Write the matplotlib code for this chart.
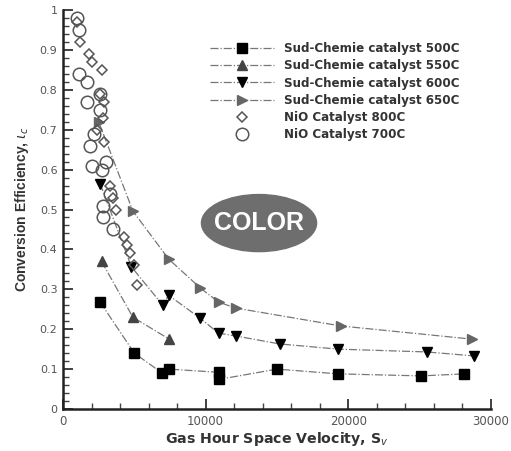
import matplotlib
matplotlib.use("Agg")
import matplotlib.pyplot as plt
from matplotlib.patches import Ellipse
from matplotlib.ticker import MultipleLocator

plt.rcParams['font.family'] = ['DejaVu Sans']

# Sud-Chemie catalyst series
x500 = [2600, 5000, 6950, 7400, 10900, 10900, 15000, 19300, 25100, 28100]
y500 = [0.268, 0.14, 0.09, 0.10, 0.092, 0.074, 0.10, 0.088, 0.083, 0.088]

x550 = [2700, 4900, 7450]
y550 = [0.37, 0.23, 0.175]

x600 = [2600, 4800, 7000, 7400, 9600, 10900, 12100, 15200, 19300, 25500, 28800]
y600 = [0.565, 0.356, 0.26, 0.285, 0.228, 0.19, 0.183, 0.163, 0.15, 0.143, 0.133]

x650 = [2500, 4900, 7400, 9600, 10900, 12100, 19500, 28700]
y650 = [0.72, 0.496, 0.376, 0.304, 0.268, 0.253, 0.208, 0.175]

# NiO catalyst series
x800 = [1000, 1200, 1800, 2000, 2700, 2600, 2900, 2800, 2400, 2900, 3300, 3500, 3700, 4300, 4500, 4700, 5000, 5200]
y800 = [0.97, 0.92, 0.89, 0.87, 0.85, 0.79, 0.77, 0.73, 0.70, 0.67, 0.56, 0.53, 0.50, 0.43, 0.41, 0.39, 0.36, 0.31]

x700 = [1000, 1100, 1100, 1700, 2600, 1700, 2600, 1900, 2000, 2700, 3300, 2800, 2800, 3500, 3000, 2200]
y700 = [0.98, 0.95, 0.84, 0.82, 0.79, 0.77, 0.75, 0.66, 0.61, 0.60, 0.54, 0.51, 0.48, 0.45, 0.62, 0.69]

labels = ["Sud-Chemie catalyst 500C", "Sud-Chemie catalyst 550C",
          "Sud-Chemie catalyst 600C", "Sud-Chemie catalyst 650C",
          "NiO Catalyst 800C", "NiO Catalyst 700C"]

fig = plt.figure(figsize=(5.11, 4.51), dpi=100)
ax = fig.add_axes([63/511, 42/451, 428/511, 399/451])

lc = '#777777'
ax.plot(x500, y500, linestyle='-.', color=lc, lw=0.9, marker='s', ms=7,
        mfc='black', mec='black', label=labels[0])
ax.plot(x550, y550, linestyle='-.', color=lc, lw=0.9, marker='^', ms=7,
        mfc='#444444', mec='#444444', label=labels[1])
ax.plot(x600, y600, linestyle='-.', color=lc, lw=0.9, marker='v', ms=7,
        mfc='black', mec='black', label=labels[2])
ax.plot(x650, y650, linestyle='-.', color=lc, lw=0.9, marker='>', ms=7,
        mfc='#666666', mec='#666666', label=labels[3])
ax.plot(x800, y800, linestyle='none', marker='D', ms=5.5, mfc='none',
        mec='#555555', mew=1.1, label=labels[4])
ax.plot(x700, y700, linestyle='none', marker='o', ms=9, mfc='none',
        mec='#555555', mew=1.1, label=labels[5])

ax.set_xlim(0, 30000)
ax.set_ylim(0, 1)
ax.xaxis.set_minor_locator(MultipleLocator(2000))
ax.yaxis.set_minor_locator(MultipleLocator(0.02))
ax.set_yticks([0, 0.1, 0.2, 0.3, 0.4, 0.5, 0.6, 0.7, 0.8, 0.9, 1.0])
ax.set_yticklabels(['0', '0.1', '0.2', '0.3', '0.4', '0.5', '0.6', '0.7', '0.8', '0.9', '1'])
ax.set_xticks([0, 10000, 20000, 30000])
ax.set_xticklabels(['0', '10000', '20000', '30000'])

for s in ['top', 'right']:
    ax.spines[s].set_visible(False)
for s in ['left', 'bottom']:
    ax.spines[s].set_linewidth(1.8)
    ax.spines[s].set_color('#222222')

ax.tick_params(which='major', direction='in', length=7, width=1.3,
               labelsize=8.5, labelcolor='#555555', color='#333333', pad=4)
ax.tick_params(axis='y', which='major', labelsize=8)
ax.tick_params(which='minor', direction='in', length=4, width=1.0, color='#444444')

ax.set_xlabel("Gas Hour Space Velocity, S$_v$", fontsize=10.2, fontweight='bold',
              color='#333333', labelpad=2)
ax.set_ylabel("Conversion Efficiency, $\\iota_c$", fontsize=10, fontweight='bold',
              color='#333333', labelpad=6, family='Liberation Sans')

leg = ax.legend(loc='upper left', bbox_to_anchor=(0.343, 0.92), frameon=False,
                fontsize=8.6, handlelength=5.4, handletextpad=0.85,
                labelspacing=0.36, borderaxespad=0, borderpad=0)
for t in leg.get_texts():
    t.set_fontweight('bold')
    t.set_color('#333333')

ell = Ellipse((0.458, 0.466), 0.269, 0.143, transform=ax.transAxes,
              facecolor='#6e6e6e', edgecolor='#6e6e6e')
ax.add_patch(ell)
ax.text(0.458, 0.466, "COLOR", transform=ax.transAxes, ha='center', va='center',
        fontsize=18, fontweight='bold', color='white', family='Liberation Sans')

fig.savefig("out.png", dpi=100)
